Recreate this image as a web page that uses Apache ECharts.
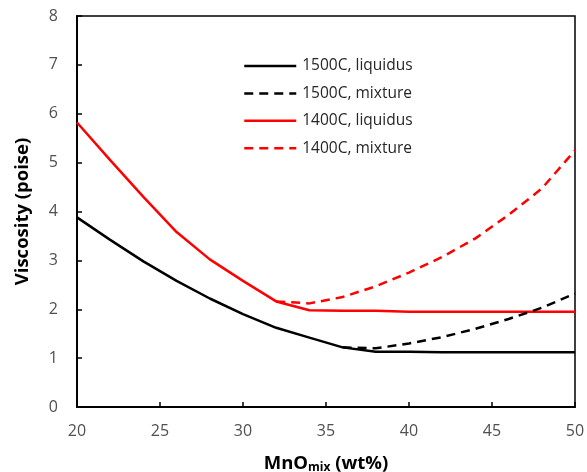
<!DOCTYPE html>
<html>
<head>
<meta charset="utf-8">
<script src="https://cdn.jsdelivr.net/npm/echarts@6/dist/echarts.min.js"></script>
<style>
  html, body { margin: 0; padding: 0; background: #fff; }
  #chart { width: 587px; height: 472px; }
</style>
</head>
<body>
<div id="chart"></div>
<script>
// MnO content of the mixture (wt%)
const mnoLiquidus = [20, 22, 24, 26, 28, 30, 32, 34, 36, 38, 40, 42, 44, 46, 48, 50];
// Viscosity along the liquidus (poise)
const visc1500Liquidus = [3.88, 3.42, 2.98, 2.58, 2.22, 1.90, 1.62, 1.42, 1.22, 1.13, 1.13, 1.12, 1.12, 1.12, 1.12, 1.12];
const visc1400Liquidus = [5.82, 5.05, 4.30, 3.58, 3.02, 2.58, 2.16, 1.98, 1.97, 1.97, 1.95, 1.95, 1.95, 1.95, 1.95, 1.95];
// Viscosity of the solid-liquid mixture (poise)
const mno1500Mixture = [36, 38, 40, 42, 44, 46, 48, 50];
const visc1500Mixture = [1.22, 1.20, 1.30, 1.43, 1.60, 1.80, 2.03, 2.32];
const mno1400Mixture = [32, 34, 36, 38, 40, 42, 44, 46, 48, 50];
const visc1400Mixture = [2.16, 2.12, 2.25, 2.47, 2.75, 3.07, 3.45, 3.93, 4.47, 5.25];

const seriesNames = ['1500C, liquidus', '1500C, mixture', '1400C, liquidus', '1400C, mixture'];

function pairs(xs, ys) {
  return xs.map((x, i) => [x, ys[i]]);
}

const font = '"Open Sans", "Noto Sans", sans-serif';

function lineSeries(name, xs, ys, color, dashed) {
  return {
    name: name,
    type: 'line',
    data: pairs(xs, ys),
    symbol: 'none',
    smooth: false,
    lineStyle: { color: color, width: 2.5, type: dashed ? [9, 6] : 'solid' },
    itemStyle: { color: color },
    z: dashed ? 3 : 2
  };
}

const chart = echarts.init(document.getElementById('chart'), null, { renderer: 'canvas' });
chart.setOption({
  animation: false,
  backgroundColor: '#fff',
  grid: {
    left: 77, right: 12, top: 16, bottom: 65,
    outerBoundsMode: 'none',
    containLabel: false,
    show: true, borderColor: '#000', borderWidth: 1.5, backgroundColor: 'transparent'
  },
  legend: {
    orient: 'vertical',
    left: 238, top: 53,
    itemWidth: 52, itemHeight: 14, itemGap: 11.4,
    data: seriesNames,
    itemStyle: { opacity: 0, borderWidth: 0 },
    lineStyle: { width: 2.5 },
    textStyle: { fontFamily: font, fontSize: 15.5, color: '#262626', padding: [0, 0, 0, 1] }
  },
  xAxis: {
    type: 'value', min: 20, max: 50, interval: 5,
    name: 'MnO{sub|mix} (wt%)',
    nameLocation: 'middle', nameGap: 46,
    nameTextStyle: {
      fontFamily: font, fontSize: 18.5, fontWeight: 'bold', color: '#000',
      rich: { sub: { fontFamily: font, fontSize: 12, fontWeight: 'bold', color: '#000', verticalAlign: 'bottom', padding: [9, 0, 0, 0] } }
    },
    axisLine: { lineStyle: { color: '#000', width: 2 } },
    axisTick: { inside: true, length: 5, lineStyle: { color: '#000', width: 1.5 } },
    axisLabel: { fontFamily: font, fontSize: 16, color: '#505050', margin: 16 },
    splitLine: { show: false }
  },
  yAxis: {
    type: 'value', min: 0, max: 8, interval: 1,
    name: 'Viscosity (poise)',
    nameLocation: 'middle', nameGap: 45, nameRotate: 90,
    nameTextStyle: { fontFamily: font, fontSize: 18.5, fontWeight: 'bold', color: '#000' },
    axisLine: { show: true, lineStyle: { color: '#000', width: 2 } },
    axisTick: { show: true, inside: true, length: 5, lineStyle: { color: '#000', width: 1.5 } },
    axisLabel: { fontFamily: font, fontSize: 16, color: '#505050', margin: 19 },
    splitLine: { show: false }
  },
  series: [
    lineSeries(seriesNames[0], mnoLiquidus, visc1500Liquidus, '#000000', false),
    lineSeries(seriesNames[1], mno1500Mixture, visc1500Mixture, '#000000', true),
    lineSeries(seriesNames[2], mnoLiquidus, visc1400Liquidus, '#ff0000', false),
    lineSeries(seriesNames[3], mno1400Mixture, visc1400Mixture, '#ff0000', true)
  ]
});
</script>
</body>
</html>
